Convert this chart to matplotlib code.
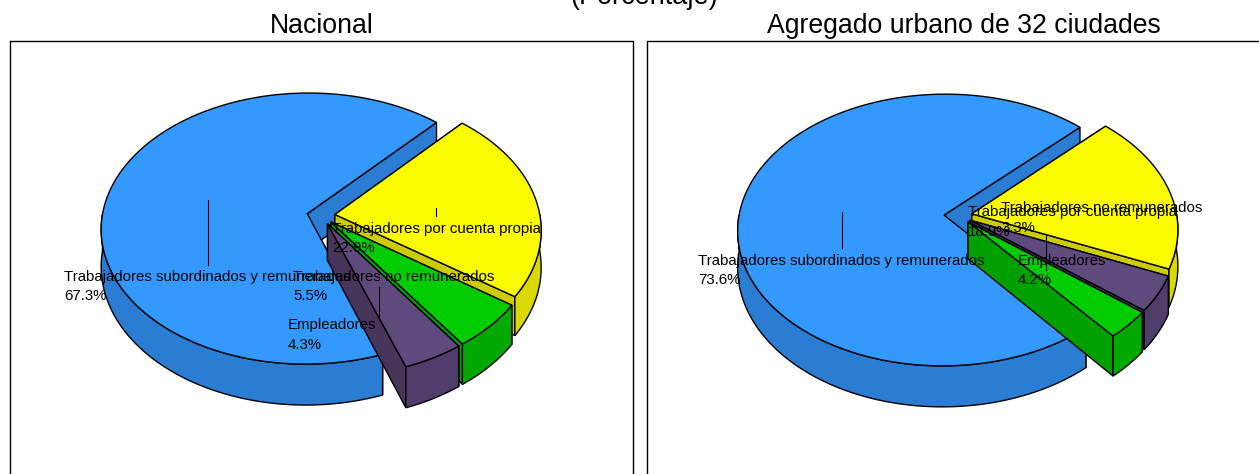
import matplotlib
matplotlib.use("Agg")
import matplotlib.pyplot as plt
import numpy as np
from matplotlib.patches import Polygon

plt.rcParams['font.family'] = ['Liberation Sans', 'DejaVu Sans']

# datos
cat_names = ["Trabajadores subordinados y remunerados", "Trabajadores por cuenta propia",
             "Empleadores", "Trabajadores no remunerados"]
nacional_vals = [67.3, 22.9, 4.3, 5.5]
urbano_vals = [73.6, 18.9, 4.2, 3.3]
# orden horario de las rebanadas en cada pie
nacional_order = [0, 1, 3, 2]
urbano_order = [0, 1, 2, 3]

top_colors = ["#3399FF", "#FBFB00", "#5E4A7D", "#00CC00"]
side_colors = ["#2B7DD4", "#D9D900", "#4F3E69", "#00A800"]
wall_colors = ["#2B7DD4", "#CCCC00", "#463659", "#00A000"]

# geometria del pie en pixeles
R = 205
A = 134.3
B = -0.11
D = 36.5
E = 14 / 205


def proj(cx, cy, x, y):
    d = 1 + B * y
    return cx + R * x / d, cy + A * y / d, D / d


def draw_pie(ax, vals, order, cx, cy, start):
    t_next = start
    for i in order:
        span = vals[i] * 3.6
        if i == 0:
            t0, t1 = start, start + span
        else:
            t1 = t_next
            t0 = t1 - span
            t_next = t0
        mid = np.radians((t0 + t1) / 2)
        ex, ey = E * np.cos(mid), -E * np.sin(mid)
        t = np.radians(np.linspace(t0, t1, 500))
        rx, ry, rd = proj(cx, cy, ex + np.cos(t), ey - np.sin(t))
        vx, vy, vd = proj(cx, cy, ex, ey)

        # paredes del corte: primero t1, luego t0
        for j in (-1, 0):
            wall = [(vx, vy), (rx[j], ry[j]), (rx[j], ry[j] + rd[j]), (vx, vy + vd)]
            ax.add_patch(Polygon(wall, closed=True, fc=wall_colors[i], ec="black", lw=1.0))

        # lado exterior, solo lo que mira al frente
        front = np.sin(t) <= 0
        if front.any():
            px = np.concatenate([rx[front], rx[front][::-1]])
            py = np.concatenate([ry[front], (ry[front] + rd[front])[::-1]])
            ax.add_patch(Polygon(np.column_stack([px, py]), closed=True,
                                 fc=side_colors[i], ec="black", lw=1.0))

        # cara superior
        tx = np.concatenate([[vx], rx])
        ty = np.concatenate([[vy], ry])
        ax.add_patch(Polygon(np.column_stack([tx, ty]), closed=True,
                             fc=top_colors[i], ec="black", lw=1.0))


def draw_labels(ax, vals, label_pos, leaders):
    for i in range(4):
        ax.text(label_pos[i][0], label_pos[i][1], cat_names[i] + "\n" + str(vals[i]) + "%",
                fontsize=10.8, ha="left", va="center", color="black", linespacing=1.5)
    for l in leaders:
        ax.plot([l[0], l[0]], [l[1], l[2]], color="black", lw=0.8)


fig = plt.figure(figsize=(12.59, 4.74), dpi=100)
ax = fig.add_axes([0, 0, 1, 1])
ax.set_xlim(0, 1259)
ax.set_ylim(474, 0)
ax.axis("off")

# marcos
ax.plot([10, 10, 633, 633], [480, 41, 41, 480], color="black", lw=1.0)
ax.plot([647, 647, 1265], [480, 41, 41], color="black", lw=1.0)

draw_pie(ax, nacional_vals, nacional_order, 321, 215.5, 47.4)
draw_pie(ax, urbano_vals, urbano_order, 958, 215.5, 44.8)

draw_labels(ax, nacional_vals,
            [(64, 286.5), (332, 238.5), (288, 335), (293, 286.5)],
            [(208, 200, 265), (436, 208, 216), (379, 287, 320)])
draw_labels(ax, urbano_vals,
            [(698, 270.5), (968, 222), (1018, 270.5), (1001, 218)],
            [(842, 212, 248), (1046, 236, 270)])

ax.text(644, 4, "(Porcentaje)", fontsize=19.5, ha="center", va="baseline")
ax.text(322, 25.5, "Nacional", fontsize=19.2, ha="center", va="center")
ax.text(964, 25.5, "Agregado urbano de 32 ciudades", fontsize=19.2, ha="center", va="center")

fig.savefig("out.png", dpi=100)
